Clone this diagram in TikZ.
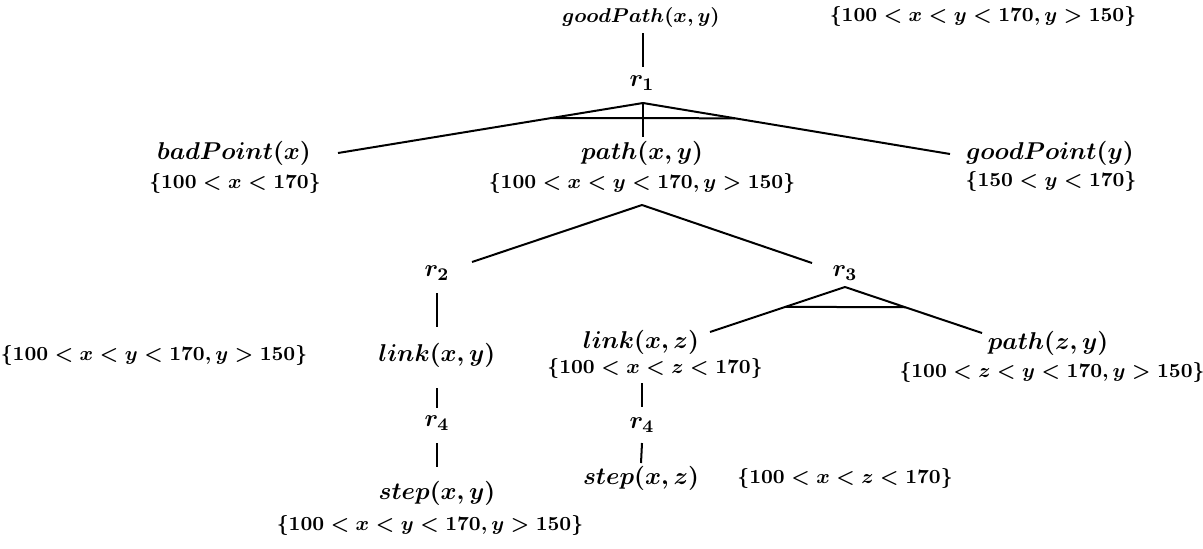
\documentclass[tikz,border=0pt]{standalone}
\usepackage{amsmath, amssymb}
\usepackage{tikz}
\usetikzlibrary{calc}
\tikzset{
  pred/.style={inner sep=1pt, font=\fontsize{10.6}{13}\selectfont\boldmath},
  cons/.style={inner sep=1pt, font=\fontsize{8.6}{10}\selectfont\boldmath},
  rulelbl/.style={inner sep=1pt, font=\fontsize{11}{13}\selectfont\boldmath},
  % --- tree edges and the and-marks across them ---
  edge/.style={line width=0.9pt},
}

\begin{document}
\begin{tikzpicture}[x=0.45pt, y=-0.45pt]
  \useasboundingbox (0,0) rectangle (1203,548);

  \node (gp) [cons] at (641,17) {$goodPath(x,y)$};
  \node (gpc) [cons] at (983,16) {$\{100<x<y<170, y>150\}$};
  \node (r1) [rulelbl] at (642,83) {$r_1$};

  \node (bad) [pred] at (234,153) {$badPoint(x)$};
  \node (badc) [cons] at (235,183) {$\{100<x<170\}$};
  \node (path) [pred] at (642,153) {$path(x,y)$};
  \node (pathc) [cons] at (642,183) {$\{100<x<y<170, y>150\}$};
  \node (good) [pred] at (1050,153) {$goodPoint(y)$};
  \node (goodc) [cons] at (1051,181) {$\{150<y<170\}$};

  \node (r2) [rulelbl] at (437,273) {$r_2$};
  \node (r3) [rulelbl] at (845,273) {$r_3$};

  \node (lc) [cons] at (154,355) {$\{100<x<y<170, y>150\}$};
  \node (lxy) [pred] at (437,355) {$link(x,y)$};
  \node (r4a) [rulelbl] at (437,423) {$r_4$};
  \node (sxy) [pred] at (437,493) {$step(x,y)$};
  \node (sxyc) [cons] at (430,525) {$\{100<x<y<170, y>150\}$};

  \node (lxz) [pred] at (641,342) {$link(x,z)$};
  \node (lxzc) [cons] at (655,368) {$\{100<x<z<170\}$};
  \node (r4b) [rulelbl] at (642,425) {$r_4$};
  \node (sxz) [pred] at (641,478) {$step(x,z)$};
  \node (sxzc) [cons] at (845,478) {$\{100<x<z<170\}$};

  \node (pzy) [pred] at (1048,343) {$path(z,y)$};
  \node (pzyc) [cons] at (1052,372) {$\{100<z<y<170, y>150\}$};

  % junction points under the rule labels
  \coordinate (j1) at ([shift={(1,20)}]r1.center);
  \coordinate (j2) at ([shift={(0,22)}]pathc.center);
  \coordinate (j3) at ([shift={(0,14)}]r3.center);
  \coordinate (badend) at ([shift={(104,0)}]bad.center);
  \coordinate (goodend) at ([shift={(-100,1)}]good.center);
  \coordinate (lxzend) at ([shift={(69,-10)}]lxz.center);
  \coordinate (pzyend) at ([shift={(-66,-10)}]pzy.center);

  \draw[edge] ([shift={(2,16)}]gp.center) -- ([shift={(1,-16)}]r1.center);
  \draw[edge] (j1) -- (badend);
  \draw[edge] (j1) -- (goodend);
  \draw[edge] (j1) -- ([shift={(1,-16)}]path.center);
  \draw[edge] ($(j1)!0.3!(badend)$) -- ($(j1)!0.3!(goodend)$);

  \draw[edge] (j2) -- ([shift={(35,-11)}]r2.center);
  \draw[edge] (j2) -- ([shift={(-33,-10)}]r3.center);

  \draw[edge] ([shift={(0,20)}]r2.center) -- ([shift={(0,-28)}]lxy.center);
  \draw[edge] ([shift={(0,33)}]lxy.center) -- ([shift={(0,-15)}]r4a.center);
  \draw[edge] ([shift={(0,20)}]r4a.center) -- ([shift={(0,-26)}]sxy.center);

  \draw[edge] (j3) -- (lxzend);
  \draw[edge] (j3) -- (pzyend);
  \draw[edge] ($(j3)!0.44!(lxzend)$) -- ($(j3)!0.44!(pzyend)$);

  \draw[edge] ([shift={(1,41)}]lxz.center) -- ([shift={(0,-18)}]r4b.center);
  \draw[edge] ([shift={(0,18)}]r4b.center) -- ([shift={(0,-15)}]sxz.center);
\end{tikzpicture}
\end{document}
